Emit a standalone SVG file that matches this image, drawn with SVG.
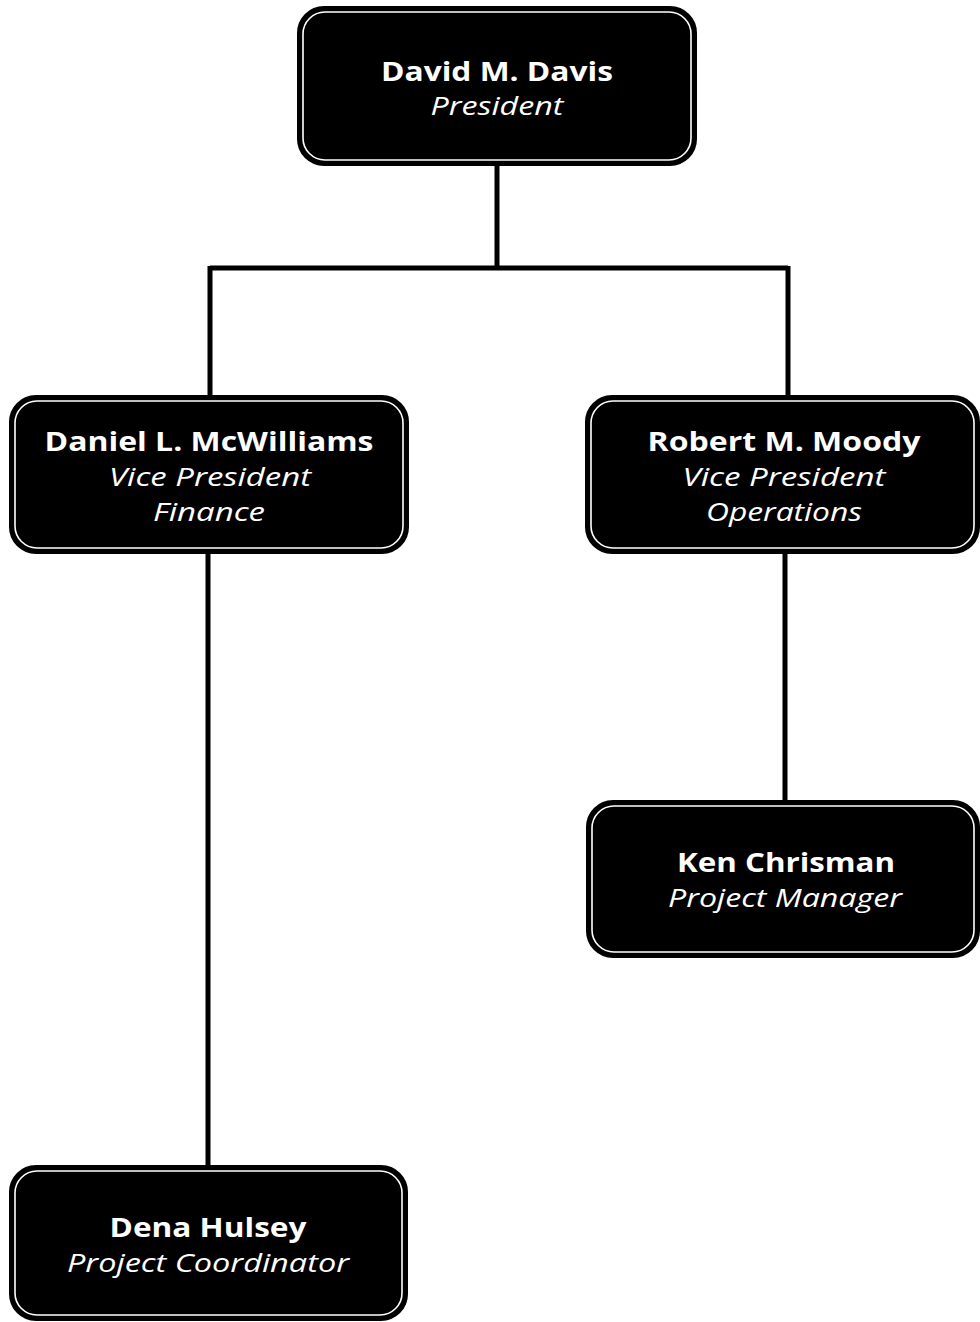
<svg xmlns="http://www.w3.org/2000/svg" width="980" height="1322" viewBox="0 0 980 1322">
<style>
.box{fill:#000;stroke:#000;stroke-width:2}
.inner{fill:none;stroke:#fff;stroke-width:1.6}
.name{font-family:"Open Sans","Liberation Sans",sans-serif;font-weight:700;font-size:27px;fill:#fff;text-anchor:middle}
.title{font-family:"Open Sans","Liberation Sans",sans-serif;font-style:italic;font-weight:400;font-size:25px;fill:#fff;text-anchor:middle}
.conn{fill:none;stroke:#000;stroke-width:5}
</style>
<rect width="980" height="1322" fill="#fff"/>
<g id="connectors">
<path class="conn" d="M497,165 V268 M210,268 H788 M210,266 V396 M788,266 V396"/>
<path class="conn" d="M208,552 V1166"/>
<path class="conn" d="M785,552 V801"/>
</g>
<g id="node-davis">
<rect class="box" x="298" y="7" width="398" height="158" rx="26"/>
<rect class="inner" x="303" y="12" width="388" height="148" rx="22"/>
<text class="name" x="497" y="81" textLength="232" lengthAdjust="spacingAndGlyphs">David M. Davis</text>
<text class="title" x="497" y="115" textLength="133" lengthAdjust="spacingAndGlyphs">President</text>
</g>
<g id="node-mcwilliams">
<rect class="box" x="10" y="396" width="398" height="157" rx="26"/>
<rect class="inner" x="15" y="401" width="388" height="147" rx="22"/>
<text class="name" x="209" y="451" textLength="329" lengthAdjust="spacingAndGlyphs">Daniel L. McWilliams</text>
<text class="title" x="210" y="486" textLength="202" lengthAdjust="spacingAndGlyphs">Vice President</text>
<text class="title" x="209" y="521" textLength="112" lengthAdjust="spacingAndGlyphs">Finance</text>
</g>
<g id="node-moody">
<rect class="box" x="586" y="396" width="393" height="157" rx="26"/>
<rect class="inner" x="591" y="401" width="383" height="147" rx="22"/>
<text class="name" x="784" y="451" textLength="273" lengthAdjust="spacingAndGlyphs">Robert M. Moody</text>
<text class="title" x="784" y="486" textLength="203" lengthAdjust="spacingAndGlyphs">Vice President</text>
<text class="title" x="784" y="521" textLength="156" lengthAdjust="spacingAndGlyphs">Operations</text>
</g>
<g id="node-chrisman">
<rect class="box" x="587" y="801" width="392" height="156" rx="26"/>
<rect class="inner" x="592" y="806" width="382" height="146" rx="22"/>
<text class="name" x="786" y="872" textLength="218" lengthAdjust="spacingAndGlyphs">Ken Chrisman</text>
<text class="title" x="785" y="907" textLength="234" lengthAdjust="spacingAndGlyphs">Project Manager</text>
</g>
<g id="node-hulsey">
<rect class="box" x="10" y="1166" width="397" height="154" rx="26"/>
<rect class="inner" x="15" y="1171" width="387" height="144" rx="22"/>
<text class="name" x="208" y="1237" textLength="197" lengthAdjust="spacingAndGlyphs">Dena Hulsey</text>
<text class="title" x="208" y="1272" textLength="282" lengthAdjust="spacingAndGlyphs">Project Coordinator</text>
</g>
</svg>
